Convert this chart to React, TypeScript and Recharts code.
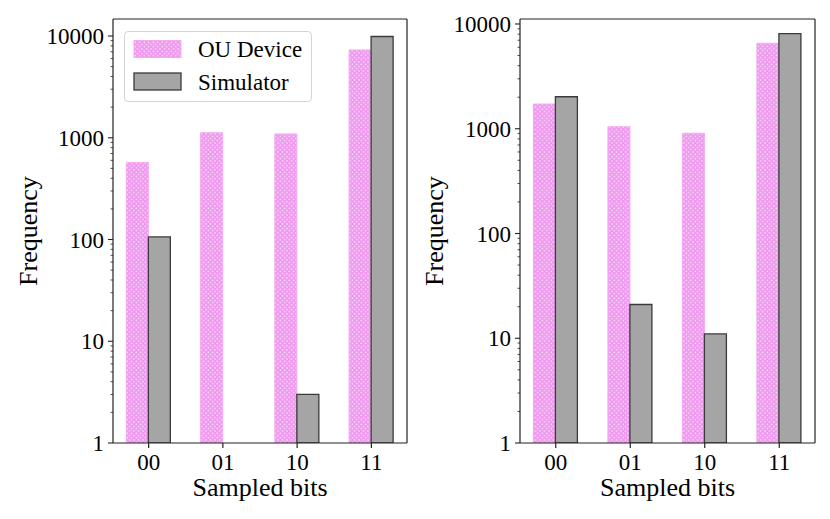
import { Bar, ComposedChart, Legend, Line, XAxis, YAxis } from "recharts";

// counts per sampled bit string, 10000 shots each
const bits = ["00", "01", "10", "11"];
const deviceLeft = [570, 1120, 1090, 7300];
const simulatorLeft = [106, 0, 3, 9890];
const deviceRight = [1720, 1045, 905, 6540];
const simulatorRight = [2020, 21, 11, 8080];

const majorTicks = [1, 10, 100, 1000, 10000];
const minorTicks = [
  2, 3, 4, 5, 6, 7, 8, 9, 20, 30, 40, 50, 60, 70, 80, 90, 200, 300, 400, 500,
  600, 700, 800, 900, 2000, 3000, 4000, 5000, 6000, 7000, 8000, 9000,
];

const FONT = "Liberation Serif";
const PINK = "#EF98EF";
const PINK_EDGE = "#F3A9F3";
const GRAY = "#A5A5A5";
const EDGE = "#3a3a3a";
const AXIS = "#222";

// a zero count has no place on a log axis, so it is left out
const buildRows = (device: number[], simulator: number[]) =>
  bits.map((bit, i) => ({
    bit,
    device: device[i] > 0 ? device[i] : null,
    simulator: simulator[i] > 0 ? simulator[i] : null,
  }));

function Hatch({ id }: { id: string }) {
  return (
    <pattern id={id} width={4.5} height={4.5} patternUnits="userSpaceOnUse">
      <rect width={4.5} height={4.5} fill={PINK} />
      <rect x={0.65} y={0.65} width={1.2} height={1.2} fill="#fff" />
      <rect x={2.9} y={2.9} width={1.2} height={1.2} fill="#fff" />
    </pattern>
  );
}

// major ticks get a label, minor ticks only a short line
function LogTick(props: any) {
  const { x, y, payload } = props;
  const major = majorTicks.includes(payload.value);
  return (
    <g>
      <line
        x1={major ? x + 4 : x + 6.5}
        x2={x + 9}
        y1={y}
        y2={y}
        stroke={AXIS}
        strokeWidth={major ? 1.1 : 0.8}
      />
      {major && (
        <text
          x={x}
          y={y}
          dy="0.35em"
          textAnchor="end"
          fontFamily={FONT}
          fontSize={23}
          fill="#000"
        >
          {payload.value}
        </text>
      )}
    </g>
  );
}

function LegendBox() {
  return (
    <div
      style={{
        width: 188,
        height: 71,
        border: "1px solid #d4d4d4",
        borderRadius: 4,
        background: "#fff",
        boxSizing: "border-box",
        position: "relative",
      }}
    >
      <svg width={188} height={71} style={{ position: "absolute", left: 0, top: 0 }}>
        <defs>
          <Hatch id="hatch-legend" />
        </defs>
        <rect x={9} y={8.5} width={47} height={17} fill="url(#hatch-legend)" stroke={PINK_EDGE} />
        <rect x={9} y={41} width={47} height={17} fill={GRAY} stroke={EDGE} strokeWidth={1.3} />
        <text x={73} y={25} fontFamily={FONT} fontSize={23} fill="#000">
          OU Device
        </text>
        <text x={73} y={58} fontFamily={FONT} fontSize={23} fill="#000">
          Simulator
        </text>
      </svg>
    </div>
  );
}

function Panel({
  device,
  simulator,
  yMax,
  axisWidth,
  chartWidth,
  rightMargin,
  labelOffset,
  patternId,
  showLegend,
}: {
  device: number[];
  simulator: number[];
  yMax: number;
  axisWidth: number;
  chartWidth: number;
  rightMargin: number;
  labelOffset: number;
  patternId: string;
  showLegend?: boolean;
}) {
  const rows = buildRows(device, simulator);
  const domain: [number, number] = [1, yMax];

  return (
    <ComposedChart
      width={chartWidth}
      height={519}
      data={rows}
      margin={{ top: 18, right: rightMargin - 1, bottom: 0, left: 0 }}
      barCategoryGap="20%"
      barGap={0}
    >
      <defs>
        <Hatch id={patternId} />
      </defs>
      <XAxis
        dataKey="bit"
        height={76}
        padding={{ left: -1.5, right: -1.5 }}
        tick={{ fontFamily: FONT, fontSize: 23, fill: "#000" }}
        tickSize={5}
        tickMargin={6}
        stroke={AXIS}
        strokeWidth={1.2}
        label={{
          value: "Sampled bits",
          position: "insideBottom",
          offset: 23,
          style: { fontFamily: FONT, fontSize: 26, fill: "#000" },
        }}
      />
      <XAxis
        xAxisId="top"
        dataKey="bit"
        orientation="top"
        height={1}
        tick={false}
        tickLine={false}
        stroke={AXIS}
        strokeWidth={1.2}
      />
      <YAxis
        yAxisId="main"
        scale="log"
        domain={domain}
        allowDataOverflow
        ticks={[...majorTicks, ...minorTicks]}
        interval={0}
        width={axisWidth}
        tick={<LogTick />}
        tickLine={false}
        tickSize={5}
        tickMargin={4}
        stroke={AXIS}
        strokeWidth={1.2}
        label={{
          value: "Frequency",
          angle: -90,
          position: "insideLeft",
          offset: labelOffset,
          style: { fontFamily: FONT, fontSize: 26, fill: "#000", textAnchor: "middle" },
        }}
      />
      <YAxis
        yAxisId="right"
        orientation="right"
        scale="log"
        domain={domain}
        allowDataOverflow
        width={1}
        tick={false}
        tickLine={false}
        stroke={AXIS}
        strokeWidth={1.2}
      />
      {showLegend && (
        <Legend
          layout="vertical"
          align="center"
          verticalAlign="middle"
          wrapperStyle={{ top: 31, left: 124, width: 188 }}
          content={() => <LegendBox />}
        />
      )}
      <Bar
        yAxisId="main"
        dataKey="device"
        name="OU Device"
        fill={`url(#${patternId})`}
        stroke={PINK_EDGE}
        strokeWidth={1}
        isAnimationActive={false}
      />
      <Bar
        yAxisId="main"
        dataKey="simulator"
        name="Simulator"
        fill={GRAY}
        stroke={EDGE}
        strokeWidth={1.3}
        isAnimationActive={false}
      />
      {/* invisible series tying the frame axes to the chart */}
      <Line
        xAxisId="top"
        yAxisId="right"
        dataKey="device"
        stroke="none"
        dot={false}
        legendType="none"
        isAnimationActive={false}
      />
    </ComposedChart>
  );
}

export default function App() {
  return (
    <div
      style={{
        position: "absolute",
        left: 0,
        top: 0,
        width: 830,
        height: 519,
        background: "#fff",
      }}
    >
      <div style={{ position: "absolute", left: 0, top: 0 }}>
        <Panel
          device={deviceLeft}
          simulator={simulatorLeft}
          yMax={14700}
          axisWidth={113}
          chartWidth={420}
          rightMargin={13}
          labelOffset={28}
          patternId="hatch-left"
          showLegend
        />
      </div>
      <div style={{ position: "absolute", left: 415, top: 0 }}>
        <Panel
          device={deviceRight}
          simulator={simulatorRight}
          yMax={11160}
          axisWidth={105}
          chartWidth={415}
          rightMargin={15}
          labelOffset={19}
          patternId="hatch-right"
        />
      </div>
    </div>
  );
}
